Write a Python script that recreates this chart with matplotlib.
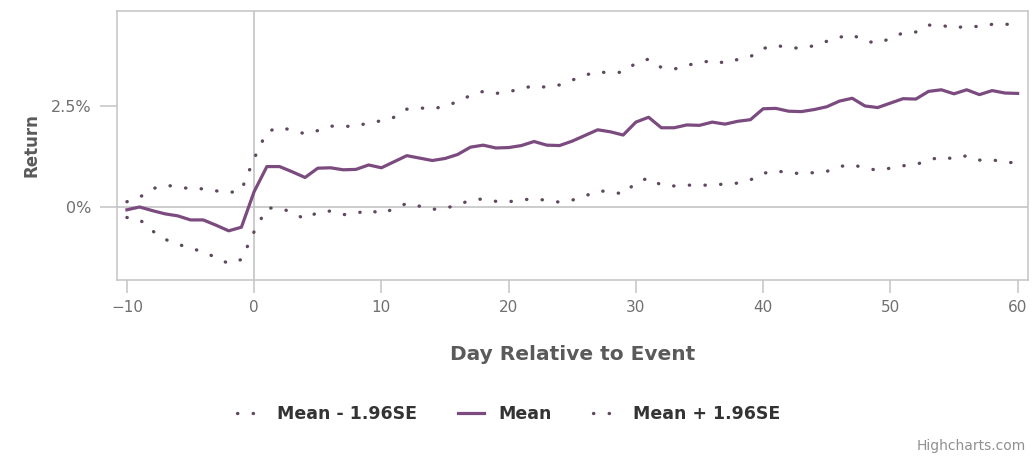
import matplotlib.pyplot as plt

plt.rcParams['font.family'] = ['DejaVu Sans']

# days relative to the event
days = list(range(-10, 61))

mean_ret = [-0.07, 0.00, -0.09, -0.17, -0.22, -0.32, -0.32, -0.45, -0.59, -0.50,
            0.38, 1.00, 1.00, 0.87, 0.73, 0.96, 0.97, 0.92, 0.93, 1.04,
            0.97, 1.12, 1.27, 1.21, 1.15, 1.20, 1.30, 1.48, 1.53, 1.46,
            1.47, 1.52, 1.62, 1.53, 1.52, 1.63, 1.77, 1.91, 1.86, 1.78,
            2.10, 2.22, 1.96, 1.96, 2.03, 2.02, 2.10, 2.05, 2.12, 2.16,
            2.43, 2.44, 2.37, 2.36, 2.41, 2.48, 2.62, 2.69, 2.50, 2.46,
            2.57, 2.68, 2.67, 2.86, 2.90, 2.80, 2.90, 2.78, 2.88, 2.82,
            2.81]

upper_ret = [0.13, 0.24, 0.45, 0.54, 0.50, 0.45, 0.45, 0.40, 0.35, 0.42,
             1.20, 1.86, 1.97, 1.90, 1.81, 1.89, 2.00, 2.00, 1.99, 2.09,
             2.13, 2.22, 2.42, 2.45, 2.43, 2.49, 2.61, 2.76, 2.86, 2.81,
             2.85, 2.93, 3.00, 2.96, 3.02, 3.14, 3.26, 3.35, 3.31, 3.34,
             3.56, 3.66, 3.45, 3.41, 3.51, 3.56, 3.63, 3.56, 3.65, 3.72,
             3.92, 4.00, 3.94, 3.93, 3.99, 4.10, 4.20, 4.26, 4.11, 4.05,
             4.17, 4.31, 4.33, 4.50, 4.50, 4.42, 4.48, 4.46, 4.52, 4.52,
             4.52]

lower_ret = [-0.26, -0.31, -0.59, -0.80, -0.92, -1.02, -1.11, -1.25, -1.40, -1.30,
             -0.61, -0.03, -0.02, -0.14, -0.30, -0.13, -0.10, -0.19, -0.16, -0.07,
             -0.17, -0.04, 0.09, 0.02, -0.06, -0.03, 0.05, 0.17, 0.20, 0.14,
             0.13, 0.17, 0.21, 0.16, 0.12, 0.17, 0.27, 0.40, 0.38, 0.32,
             0.60, 0.72, 0.54, 0.52, 0.54, 0.54, 0.54, 0.57, 0.59, 0.67,
             0.83, 0.90, 0.84, 0.83, 0.85, 0.88, 1.00, 1.05, 0.96, 0.91,
             0.96, 1.02, 1.05, 1.16, 1.24, 1.19, 1.27, 1.16, 1.17, 1.10,
             1.10]

y_ticks = [0, 2.5]
y_tick_labels = ['0%', '2.5%']
x_ticks = list(range(-10, 61, 10))

grey = '#c4c4c4'
mean_color = '#7b4b7f'
band_color = '#5e4a5e'

fig = plt.figure(figsize=(10.34, 4.57), dpi=100)
ax = fig.add_axes([0.113, 0.387, 0.881, 0.589])

ax.axhline(0, color=grey, lw=1.2, zorder=1)
ax.axvline(0, color=grey, lw=1.2, zorder=1)

dot_style = (0, (0.1, 4.6))
l1, = ax.plot(days, lower_ret, color=band_color, lw=2.4, linestyle=dot_style,
              dash_capstyle='round', label='Mean - 1.96SE')
l2, = ax.plot(days, mean_ret, color=mean_color, lw=2.3, label='Mean')
l3, = ax.plot(days, upper_ret, color=band_color, lw=2.4, linestyle=dot_style,
              dash_capstyle='round', label='Mean + 1.96SE')

ax.set_xlim(-10.79, 60.8)
ax.set_ylim(-1.81, 4.85)

ax.set_xticks(x_ticks)
ax.set_yticks(y_ticks)
ax.set_yticklabels(y_tick_labels)

for s in ax.spines.values():
    s.set_color(grey)
    s.set_linewidth(1.1)

ax.tick_params(axis='x', direction='out', length=9, width=1.1, color=grey,
               labelsize=11, labelcolor='#707070', pad=5)
ax.tick_params(axis='y', direction='out', length=12, width=1.1, color=grey,
               labelsize=11.5, labelcolor='#707070', pad=6)

ax.set_xlabel('Day Relative to Event', fontsize=14.5, fontweight='bold',
              color='#5a5a5a', labelpad=22)
ax.set_ylabel('Return', fontsize=12, fontweight='bold', color='#5a5a5a',
              labelpad=8)

fig.legend(handles=[l1, l2, l3], loc='center', bbox_to_anchor=(0.492, 0.093),
           ncol=3, frameon=False, handlelength=1.5, handletextpad=0.8,
           columnspacing=2.4, prop={'weight': 'bold', 'size': 12.5},
           labelcolor='#333333')

fig.text(0.992, 0.025, 'Highcharts.com', ha='right', va='center',
         fontsize=10, color='#909090')

fig.savefig('out.png', dpi=100)
